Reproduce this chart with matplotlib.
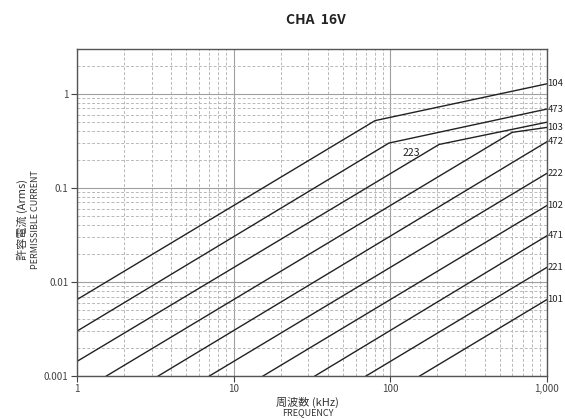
import numpy as np
import matplotlib.pyplot as plt
from matplotlib.ticker import FixedLocator, NullFormatter

# capacitance codes and the curves (kHz, Arms)
codes = ['104', '473', '223', '103', '472', '222', '102', '471', '221', '101']
freqs = [
    [1, 80, 1000],
    [1, 98, 1000],
    [1, 205, 1000],
    [1.54, 600, 1000],
    [3.3, 1000],
    [7.0, 1000],
    [15.4, 1000],
    [33, 1000],
    [70, 1000],
    [154, 1000],
]
currents = [
    [0.0065, 0.52, 1.28],
    [0.0030, 0.30, 0.69],
    [0.00143, 0.29, 0.50],
    [0.001, 0.39, 0.44],
    [0.001, 0.31],
    [0.001, 0.143],
    [0.001, 0.065],
    [0.001, 0.031],
    [0.001, 0.0143],
    [0.001, 0.0065],
]
x_ticks = [1, 10, 100, 1000]
x_tick_labels = ['1', '10', '100', '1,000']
y_ticks = [0.001, 0.01, 0.1, 1]
y_tick_labels = ['0.001', '0.01', '0.1', '1']

plt.rcParams['font.family'] = ['Noto Sans CJK JP', 'DejaVu Sans']

fig = plt.figure(figsize=(5.65, 4.19), dpi=100)
ax = fig.add_axes([0.1363, 0.1026, 0.8317, 0.7804])
ax.set_xscale('log')
ax.set_yscale('log')
ax.set_xlim(1, 1000)
ax.set_ylim(0.001, 3)

# dense dashed grid on every 1..9 step
minor_x = [m * 10 ** e for e in range(0, 3) for m in range(2, 10)]
minor_y = [m * 10.0 ** e for e in range(-3, 1) for m in range(2, 10) if m * 10.0 ** e < 3]
ax.xaxis.set_minor_locator(FixedLocator(minor_x))
ax.yaxis.set_minor_locator(FixedLocator(minor_y))
ax.xaxis.set_minor_formatter(NullFormatter())
ax.yaxis.set_minor_formatter(NullFormatter())
ax.grid(which='major', color='#a0a0a0', linestyle='-', linewidth=0.8)
ax.grid(which='minor', color='#b8b8b8', linestyle=(0, (3, 2)), linewidth=0.7)
ax.tick_params(which='minor', length=0)
ax.tick_params(which='major', length=4, width=0.8, labelsize=7, colors='#444444', pad=2)

ax.set_xticks(x_ticks)
ax.set_xticklabels(x_tick_labels)
ax.set_yticks(y_ticks)
ax.set_yticklabels(y_tick_labels)

for sp in ax.spines.values():
    sp.set_color('#555555')
    sp.set_linewidth(1.0)

for code, f, i in zip(codes, freqs, currents):
    ax.plot(f, i, color='#222222', linewidth=1.0)
    if code == '223':
        ax.text(136, 0.237, code, fontsize=7.5, ha='center', va='center', color='#222222')
    else:
        ax.text(1.01 * f[-1], i[-1], code, fontsize=6.8, ha='left', va='center',
                color='#222222', clip_on=False)

fig.text(0.559, 0.952, 'CHA  16V', ha='center', va='center', fontsize=10,
         fontweight='bold', fontstretch='condensed', color='#222222')

fig.text(0.039, 0.475, '許容電流 (Arms)', rotation=90, ha='center', va='center',
         fontsize=8, color='#333333')
fig.text(0.062, 0.475, 'PERMISSIBLE CURRENT', rotation=90, ha='center', va='center',
         fontsize=6.5, color='#333333')
fig.text(0.545, 0.040, '周波数 (kHz)', ha='center', va='center', fontsize=8, color='#333333')
fig.text(0.545, 0.014, 'FREQUENCY', ha='center', va='center', fontsize=6.5, color='#333333')

fig.savefig('out.png', dpi=100)
